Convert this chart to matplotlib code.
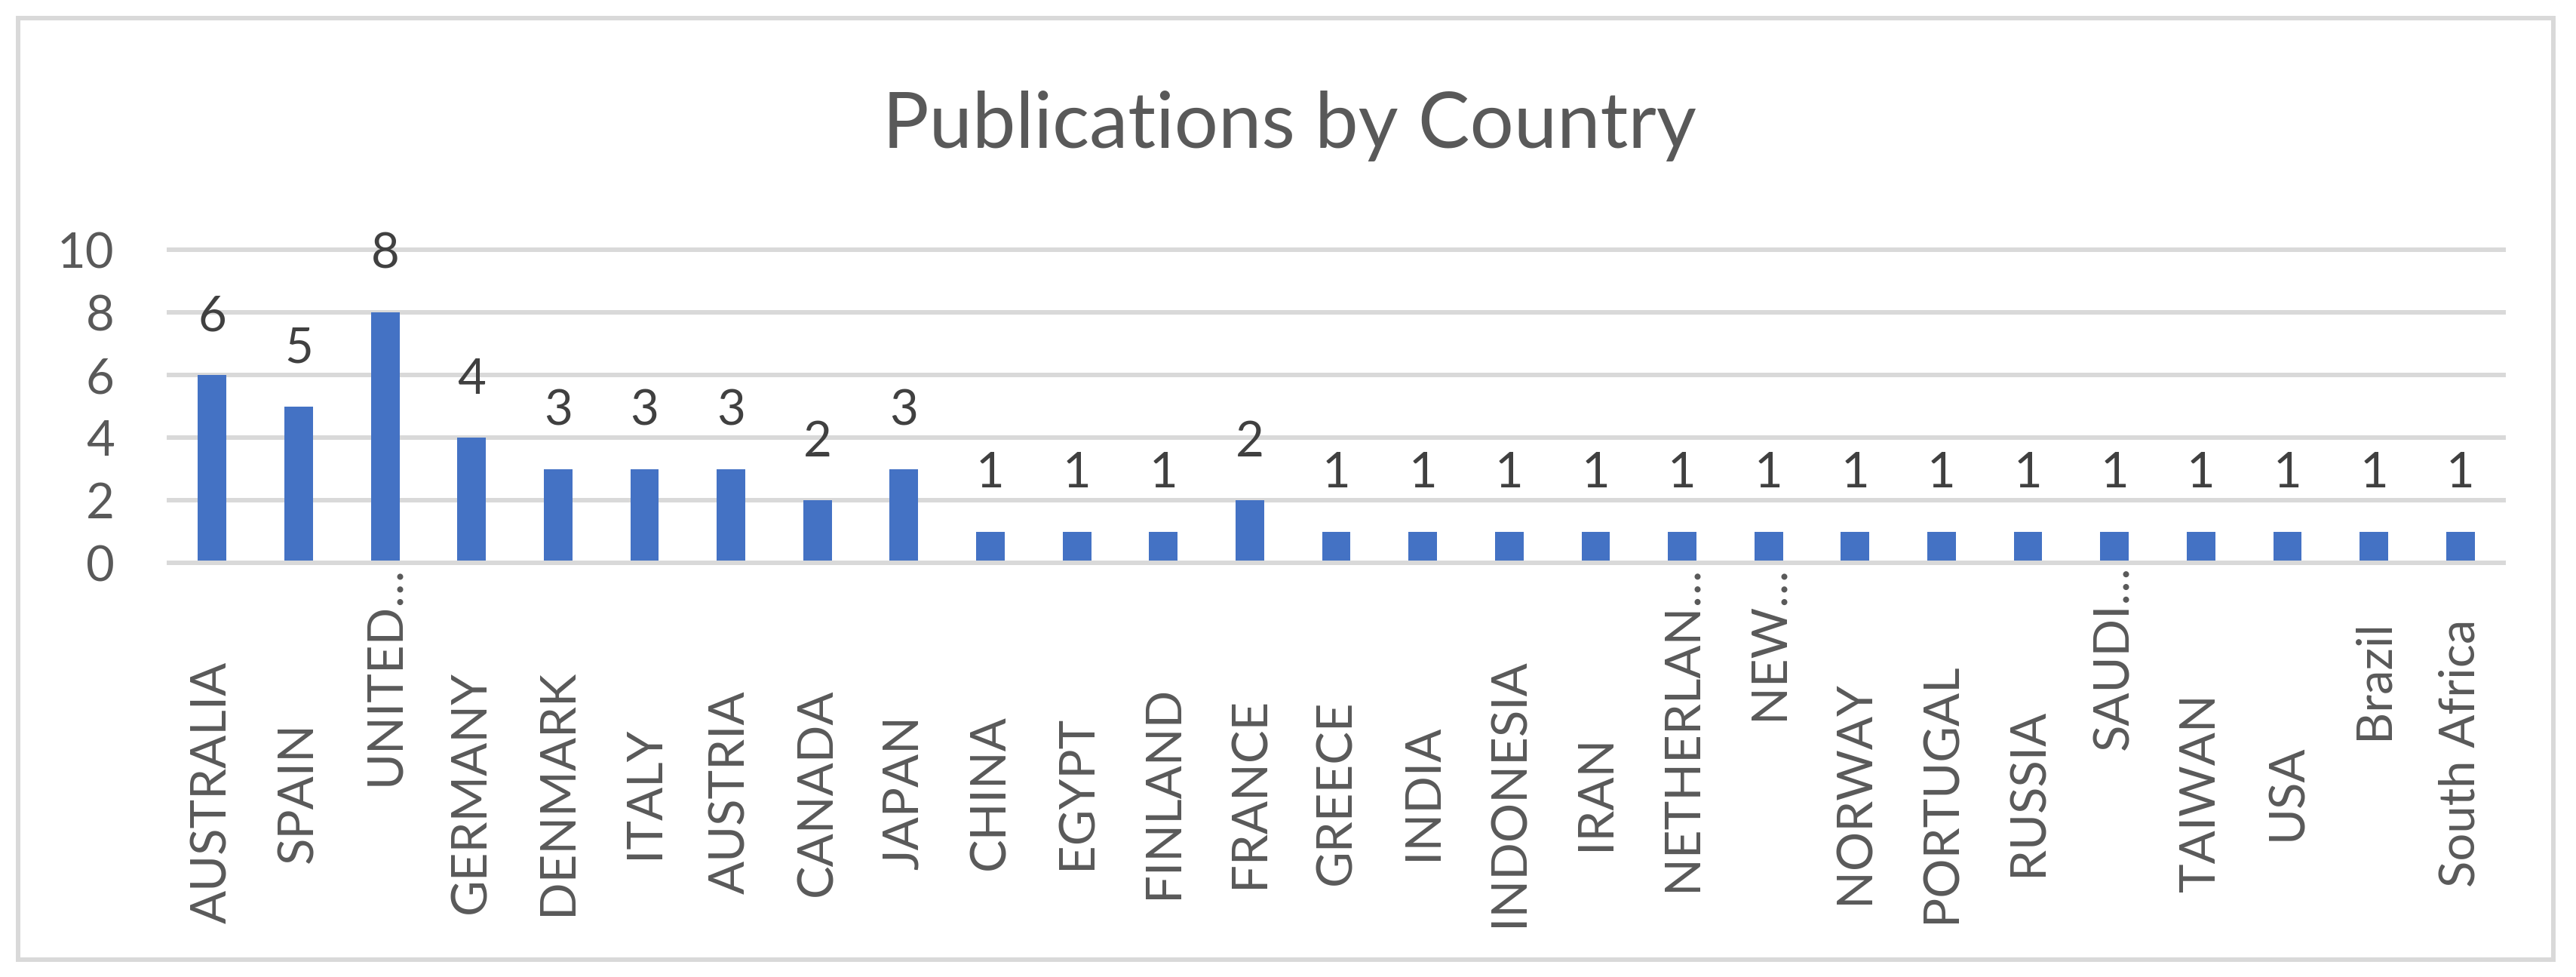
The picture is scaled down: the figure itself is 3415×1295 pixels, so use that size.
import matplotlib.pyplot as plt
from matplotlib.transforms import blended_transform_factory
from matplotlib.patches import Rectangle
import numpy as np

countries = ["AUSTRALIA", "SPAIN", "UNITED…", "GERMANY", "DENMARK", "ITALY", "AUSTRIA",
             "CANADA", "JAPAN", "CHINA", "EGYPT", "FINLAND", "FRANCE", "GREECE", "INDIA",
             "INDONESIA", "IRAN", "NETHERLAN…", "NEW…", "NORWAY", "PORTUGAL", "RUSSIA",
             "SAUDI…", "TAIWAN", "USA", "Brazil", "South Africa"]
publications = [6, 5, 8, 4, 3, 3, 3, 2, 3, 1, 1, 1, 2, 1, 1, 1, 1, 1, 1, 1, 1, 1, 1, 1, 1, 1, 1]
yticks = [0, 2, 4, 6, 8, 10]

plt.rcParams['font.family'] = ['Lato', 'DejaVu Sans']
grey = "#595959"
grid_c = "#D9D9D9"
bar_c = "#4472C4"

fig = plt.figure(figsize=(34.15, 12.95), dpi=100)
ax = fig.add_axes([0.0656, 0.4239, 0.9063, 0.3205])

x = np.arange(len(countries))
ax.bar(x, publications, width=0.33, color=bar_c, zorder=3)
ax.set_xlim(-0.5, len(countries) - 0.5)
ax.set_ylim(0, 10)
ax.set_yticks(yticks)
ax.set_yticklabels([str(t) for t in yticks], fontsize=47, color=grey)
ax.tick_params(axis='y', length=0, pad=52)
ax.set_xticks([])
for s in ax.spines.values():
    s.set_visible(False)
for t in yticks:
    # the zero line sits on top of the bars, the others behind
    ax.axhline(t, color=grid_c, lw=4.3, zorder=4 if t == 0 else 1, clip_on=False)

# value labels
for xi, v in zip(x, publications):
    ax.annotate(str(v), (xi, v), xytext=(0, 42), textcoords="offset points",
                ha='center', va='baseline', fontsize=47, color="#404040")

# category labels, rotated
trans = blended_transform_factory(ax.transData, fig.transFigure)
for xi, lab in zip(x, countries):
    if lab.endswith("…"):
        ax.text(xi, 0.421, lab, rotation=90, ha='center', va='top', fontsize=47,
                color=grey, transform=trans)
    elif not lab.isupper():
        ax.text(xi, 0.366, lab, rotation=90, ha='center', va='top', fontsize=47,
                color=grey, transform=trans)
    else:
        ax.text(xi, 0.189, lab, rotation=90, ha='center', va='center', fontsize=47,
                color=grey, transform=trans)

fig.text(0.5007, 0.8486, "Publications by Country", ha='center', va='baseline',
         fontsize=74, color=grey)

# chart border
fig.patches.append(Rectangle((0.0070, 0.0178), 0.9842, 0.9637, transform=fig.transFigure,
                             fill=False, edgecolor=grid_c, lw=4.3))

plt.savefig("out.png", dpi=100, facecolor="white")
